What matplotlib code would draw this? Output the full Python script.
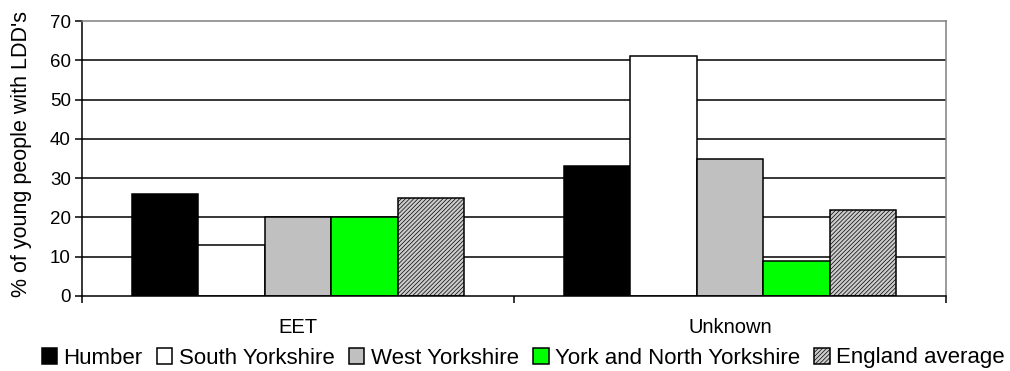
import matplotlib
matplotlib.use("Agg")
import matplotlib.pyplot as plt
import numpy as np

plt.rcParams['font.family'] = ['Liberation Sans', 'DejaVu Sans']
plt.rcParams['hatch.color'] = '#a4a4a4'
plt.rcParams['hatch.linewidth'] = 0.5

categories = ["EET", "Unknown"]
series_names = ["Humber", "South Yorkshire", "West Yorkshire",
                "York and North Yorkshire", "England average"]
values = {
    "Humber": [26, 33],
    "South Yorkshire": [13, 61],
    "West Yorkshire": [20, 35],
    "York and North Yorkshire": [20, 9],
    "England average": [25, 22],
}
colors = ["#000000", "#ffffff", "#c0c0c0", "#00ff00", "#cccccc"]
hatches = [None, None, None, None, "////////"]
yticks = [0, 10, 20, 30, 40, 50, 60, 70]

fig = plt.figure(figsize=(10.1, 3.71), dpi=100)
ax = fig.add_axes([82 / 1010, 1 - 296 / 371, 864 / 1010, 275 / 371])

x = np.arange(len(categories))
n = len(series_names)
width = 1 / (n + 1.5)
for i, name in enumerate(series_names):
    offs = (i - (n - 1) / 2) * width
    ax.bar(x + offs, values[name], width, color=colors[i], edgecolor="black",
           linewidth=1.1, hatch=hatches[i], label=name, zorder=3)

ax.set_xlim(-0.5, len(categories) - 0.5)
ax.set_ylim(0, 70)
ax.set_yticks(yticks)
ax.set_yticklabels([str(v) for v in yticks], fontsize=13.5)
for v in yticks[1:-1]:
    ax.axhline(v, color="black", linewidth=1.1, zorder=1)

# category labels centred, tick marks at category boundaries
ax.set_xticks(x)
ax.set_xticklabels(categories, fontsize=14.5)
ax.tick_params(axis="x", length=0, pad=16)
ax.set_xticks(np.arange(len(categories) + 1) - 0.5, minor=True)
ax.tick_params(axis="x", which="minor", length=5, width=1.1, direction="out")
ax.tick_params(axis="y", length=5, width=1.1, direction="out", pad=3)

for s in ["left", "bottom"]:
    ax.spines[s].set_color("black")
    ax.spines[s].set_linewidth(1.1)
for s in ["top", "right"]:
    ax.spines[s].set_color("#808080")
    ax.spines[s].set_linewidth(1.1)
ax.spines["bottom"].set_zorder(4)

ax.set_ylabel("% of young people with LDD's", fontsize=15.5)
ax.yaxis.set_label_coords(-0.058, 0.515)

leg = fig.legend(loc="center", bbox_to_anchor=(0.518, 1 - 358 / 371), ncol=5,
                 frameon=False, fontsize=16, handlelength=0.7, handleheight=0.7,
                 handletextpad=0.28, columnspacing=0.65, borderaxespad=0)

fig.savefig("out.png", dpi=100)
